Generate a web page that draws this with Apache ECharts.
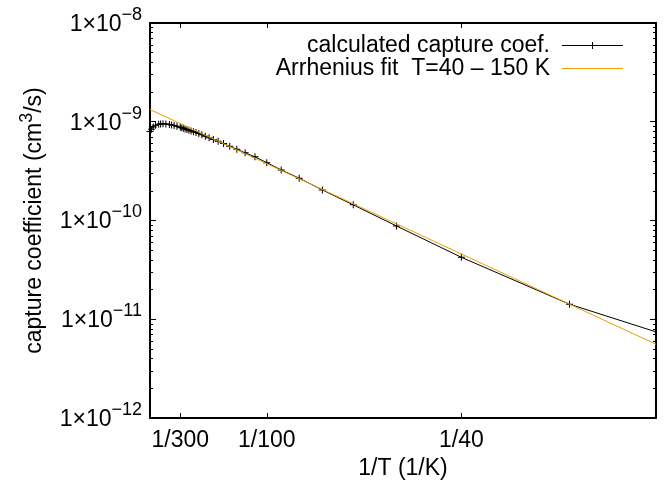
<!DOCTYPE html>
<html>
<head>
<meta charset="utf-8">
<script src="https://cdn.jsdelivr.net/npm/echarts@6/dist/echarts.min.js"></script>
<style>
html,body{margin:0;padding:0;background:#fff;}
#chart{width:667px;height:494px;}
</style>
</head>
<body>
<div id="chart"></div>
<script>
// Temperatures (K) of the calculated points
var temps = [1000, 900, 800, 700, 600, 550, 500, 450, 400, 375, 350, 325, 300, 290, 280, 270, 260, 250, 240, 230, 220, 210, 200, 190, 180, 170, 160, 150, 140, 130, 120, 110, 100, 90, 80, 70, 60, 50, 40, 30, 20];
// calculated capture coefficient (cm^3/s)
var kCalc = [7.97e-10, 8.41e-10, 8.85e-10, 9.21e-10, 9.45e-10, 9.51e-10, 9.53e-10, 9.51e-10, 9.38e-10, 9.29e-10, 9.16e-10, 8.99e-10, 8.79e-10, 8.68e-10, 8.58e-10, 8.46e-10, 8.35e-10, 8.21e-10, 8.08e-10, 7.93e-10, 7.77e-10, 7.59e-10, 7.38e-10, 7.14e-10, 6.90e-10, 6.63e-10, 6.34e-10, 6.01e-10, 5.65e-10, 5.26e-10, 4.84e-10, 4.41e-10, 3.85e-10, 3.25e-10, 2.68e-10, 2.04e-10, 1.44e-10, 8.80e-11, 4.24e-11, 1.42e-11, 2.83e-12];
// Arrhenius fit line (1/T, k)
var fitInvT = [0.001, 0.04];
var fitK = [1.33e-9, 5.58e-12];
// x tick values and labels
var xTickVals = [1/300, 1/100, 1/40];
var xTickLabels = ['1/300', '1/100', '1/40'];
// y minor tick mantissas and decades
var yMinorMant = [2, 3, 4, 5, 6, 7, 8, 9];
var yDecades = [-12, -11, -10, -9];

var FONT = 'Liberation Sans, Arial, Helvetica, sans-serif';
var FS = 23;
var calcData = temps.map(function (t, i) { return [1 / t, kCalc[i]]; });
var fitData = fitInvT.map(function (x, i) { return [x, fitK[i]]; });

var minorLog = [];
yDecades.forEach(function (d) { yMinorMant.forEach(function (m) { minorLog.push(d + Math.log10(m)); }); });

function xFmt(v) {
  for (var i = 0; i < xTickVals.length; i++) { if (Math.abs(v - xTickVals[i]) < 1e-9) return xTickLabels[i]; }
  return '';
}
function yFmt(v) {
  var e = Math.round(Math.log10(v));
  return '{a|1×10}{b|' + (e < 0 ? '−' + (-e) : e) + '}';
}

var axisLineStyle = { show: true, lineStyle: { color: '#000', width: 2 } };
var plusPath = 'path://M3,0L4,0L4,7L3,7Z M0,3L7,3L7,4L0,4Z';
var lineIcon = 'path://M0,0L61,0L61,1L0,1Z';
var linePlusIcon = 'path://M0,3L61,3L61,4L0,4Z M30,0L31,0L31,7L30,7Z';

var chart = echarts.init(document.getElementById('chart'), null, { renderer: 'canvas' });
chart.setOption({
  animation: false,
  backgroundColor: '#fff',
  textStyle: { fontFamily: FONT },
  grid: { left: 150, right: 11, top: 23, bottom: 76, outerBoundsMode: 'none', containLabel: false },
  legend: {
    orient: 'vertical', align: 'right', right: 39, top: 29, itemGap: 0,
    itemWidth: 61, itemHeight: 8,
    textStyle: { fontSize: FS, color: '#000', fontFamily: FONT, lineHeight: 23, padding: [0, 7, 0, 0] },
    data: [
      { name: 'calculated capture coef.', icon: linePlusIcon },
      { name: 'Arrhenius fit  T=40 – 150 K', icon: lineIcon }
    ]
  },
  xAxis: [{
    type: 'value', min: 0.001, max: 0.04, position: 'bottom',
    axisLine: axisLineStyle,
    axisTick: { show: true, inside: true, length: 5, customValues: xTickVals, lineStyle: { color: '#000', width: 1 } },
    axisLabel: { show: true, customValues: xTickVals, formatter: xFmt, fontSize: FS, color: '#000', fontFamily: FONT, margin: 11 },
    splitLine: { show: false },
    name: '1/T (1/K)', nameLocation: 'middle', nameGap: 39,
    nameTextStyle: { fontSize: FS, color: '#000', fontFamily: FONT }
  }, {
    type: 'value', min: 0.001, max: 0.04, position: 'top',
    axisLine: axisLineStyle,
    axisTick: { show: true, inside: true, length: 5, customValues: xTickVals, lineStyle: { color: '#000', width: 1 } },
    axisLabel: { show: false },
    splitLine: { show: false }
  }],
  yAxis: [{
    type: 'log', logBase: 10, min: 1e-12, max: 1e-8, splitNumber: 4, position: 'left',
    axisLine: axisLineStyle,
    axisTick: { show: true, inside: true, length: 6, lineStyle: { color: '#000', width: 1 } },
    axisLabel: {
      formatter: yFmt, margin: 8, color: '#000',
      rich: {
        a: { fontSize: FS, lineHeight: 23, fontFamily: FONT, color: '#000', padding: [7, 0, 4, 0] },
        b: { fontSize: 18, lineHeight: 18, fontFamily: FONT, color: '#000', padding: [0, 0, 16, 0] }
      }
    },
    splitLine: { show: false },
    name: '{n|capture coefficient (cm}{s|3}{n|/s)}', nameLocation: 'middle', nameRotate: 90, nameGap: 108,
    nameTextStyle: {
      rich: {
        n: { fontSize: FS, lineHeight: 23, fontFamily: FONT, color: '#000', padding: [8, 0, 0, 0] },
        s: { fontSize: 18, lineHeight: 18, fontFamily: FONT, color: '#000', padding: [3, 0, 10, 0] }
      }
    }
  }, {
    type: 'log', logBase: 10, min: 1e-12, max: 1e-8, splitNumber: 4, position: 'right',
    axisLine: axisLineStyle,
    axisTick: { show: true, inside: true, length: 6, lineStyle: { color: '#000', width: 1 } },
    axisLabel: { show: false },
    splitLine: { show: false }
  }, {
    type: 'value', min: -12, max: -8, position: 'left', offset: 0,
    axisLine: { show: false },
    axisTick: { show: true, inside: true, length: 3, customValues: minorLog, lineStyle: { color: '#000', width: 1 } },
    axisLabel: { show: false },
    splitLine: { show: false }
  }, {
    type: 'value', min: -12, max: -8, position: 'right', offset: 0,
    axisLine: { show: false },
    axisTick: { show: true, inside: true, length: 3, customValues: minorLog, lineStyle: { color: '#000', width: 1 } },
    axisLabel: { show: false },
    splitLine: { show: false }
  }],
  series: [{
    name: 'calculated capture coef.', type: 'line', xAxisIndex: 0, yAxisIndex: 0,
    data: calcData, symbol: plusPath, symbolSize: 7, showSymbol: true, showAllSymbol: true,
    lineStyle: { color: '#000', width: 1 },
    itemStyle: { color: '#000' },
    clip: true, z: 2
  }, {
    name: 'Arrhenius fit  T=40 – 150 K', type: 'line', xAxisIndex: 0, yAxisIndex: 0,
    data: fitData, symbol: 'none',
    lineStyle: { color: '#e6a000', width: 1 },
    itemStyle: { color: '#e6a000' },
    clip: true, z: 3
  }]
});
</script>
</body>
</html>
